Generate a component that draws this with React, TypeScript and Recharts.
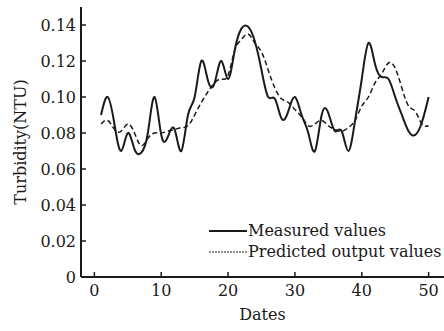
import React from "react";
import { LineChart, Line, XAxis, YAxis, Legend } from "recharts";

const dates = Array.from({ length: 50 }, (_, i) => i + 1);

const measured = [
  0.09, 0.1, 0.085, 0.07, 0.08, 0.071, 0.069, 0.08, 0.1, 0.079,
  0.078, 0.082, 0.07, 0.09, 0.1, 0.12, 0.109, 0.108, 0.12, 0.11,
  0.126, 0.138, 0.139, 0.131, 0.115, 0.1, 0.099, 0.088, 0.092, 0.1,
  0.09, 0.08, 0.07, 0.09, 0.091, 0.081, 0.081, 0.07, 0.087, 0.11,
  0.13, 0.118, 0.111, 0.11, 0.1, 0.09, 0.081, 0.079, 0.086, 0.1,
];

const predicted = [
  0.085, 0.087, 0.082, 0.081, 0.085, 0.08, 0.073, 0.077, 0.08, 0.08,
  0.081, 0.082, 0.083, 0.084, 0.09, 0.097, 0.103, 0.108, 0.11, 0.112,
  0.126, 0.132, 0.135, 0.13, 0.125, 0.115, 0.105, 0.099, 0.097, 0.093,
  0.089, 0.084, 0.085, 0.087, 0.084, 0.082, 0.081, 0.083, 0.087, 0.095,
  0.1, 0.108, 0.113, 0.119, 0.116, 0.105, 0.095, 0.092, 0.085, 0.084,
];

const xTicks = [0, 10, 20, 30, 40, 50];
const yTicks = [0, 0.02, 0.04, 0.06, 0.08, 0.1, 0.12, 0.14];

const data = dates.map((d, i) => ({ date: d, measured: measured[i], predicted: predicted[i] }));

const font = "'DejaVu Serif', serif";
const ink = "#1a1a1a";

const YTitle = ({ viewBox }: any) => {
  const cx = viewBox.x + 20;
  const cy = viewBox.y + viewBox.height / 2;
  return (
    <text x={cx} y={cy} transform={`rotate(-90, ${cx}, ${cy})`} textAnchor="middle" dominantBaseline="central"
      fontFamily={font} fontSize={16} fill={ink}>
      Turbidity(NTU)
    </text>
  );
};

const XTitle = ({ viewBox }: any) => (
  <text x={viewBox.x + viewBox.width / 2} y={viewBox.y + 43} textAnchor="middle" fontFamily={font} fontSize={16} fill={ink}>
    Dates
  </text>
);

const LegendBox = ({ payload }: any) => (
  <div style={{ fontFamily: font, fontSize: 16, color: ink }}>
    {(payload || []).map((e: any) => (
      <div key={e.value} style={{ display: "flex", alignItems: "center", height: 21, whiteSpace: "nowrap" }}>
        <svg width={38} height={10} style={{ marginRight: 1 }}>
          <line x1={0} y1={5} x2={38} y2={5} stroke={ink}
            strokeWidth={e.dataKey === "measured" ? 2 : 1}
            strokeDasharray={e.dataKey === "measured" ? undefined : "2 1"} />
        </svg>
        <span>{e.value}</span>
      </div>
    ))}
  </div>
);

export default function App() {
  return (
    <div style={{ position: "absolute", left: 0, top: 0, background: "#fff" }}>
      <LineChart width={444} height={331} data={data} margin={{ top: 7, right: 0, bottom: 0, left: 0 }}>
        <XAxis
          type="number"
          dataKey="date"
          domain={[-2, 52.3]}
          ticks={xTicks}
          allowDataOverflow
          height={54}
          tickSize={-5}
          tickMargin={13}
          axisLine={{ stroke: ink, strokeWidth: 2 }}
          tickLine={{ stroke: ink, strokeWidth: 1.5 }}
          tick={{ fontFamily: font, fontSize: 16, fill: ink }}
          label={{ content: XTitle }}
        />
        <YAxis
          type="number"
          domain={[0, 0.15]}
          ticks={yTicks}
          allowDataOverflow
          width={81}
          tickSize={-5}
          tickMargin={10}
          tickFormatter={(v: number) => (v === 0 ? "0" : v.toFixed(2))}
          axisLine={{ stroke: ink, strokeWidth: 2 }}
          tickLine={{ stroke: ink, strokeWidth: 1.5 }}
          tick={{ fontFamily: font, fontSize: 16, fill: ink }}
          label={{ content: YTitle }}
        />
        <Legend
          layout="vertical"
          align="center"
          verticalAlign="middle"
          content={LegendBox}
          wrapperStyle={{ left: 209, top: 220, width: 235 }}
        />
        <Line type="natural" dataKey="measured" name="Measured values" stroke={ink} strokeWidth={2} dot={false} isAnimationActive={false} />
        <Line type="natural" dataKey="predicted" name="Predicted output values" stroke={ink} strokeWidth={1.5} strokeDasharray="5 3" dot={false} isAnimationActive={false} />
      </LineChart>
    </div>
  );
}
